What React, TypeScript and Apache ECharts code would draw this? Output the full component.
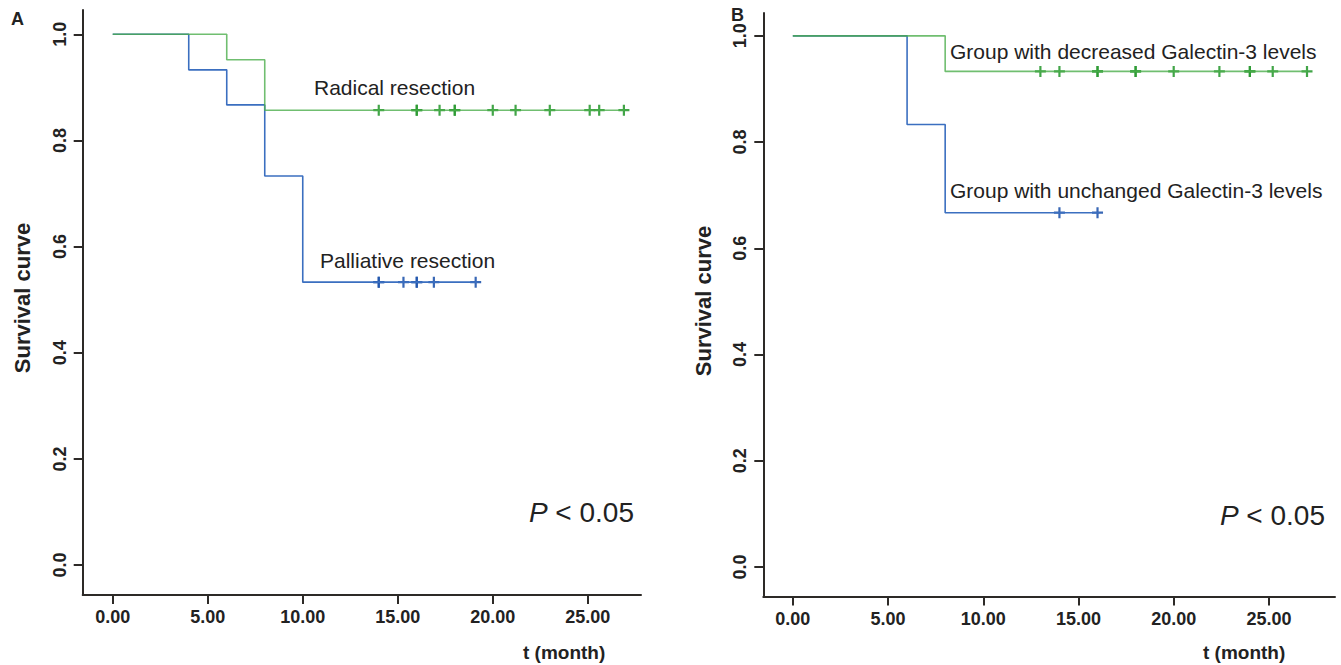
import React, { useEffect, useRef } from "react";
import * as echarts from "echarts";

const xTicks = [0, 5, 10, 15, 20, 25];
const yTicks = [0, 0.2, 0.4, 0.6, 0.8, 1.0];

// Panel A
const radicalTimes = [0, 6, 8, 26.9];
const radicalSurv = [1, 0.952, 0.857, 0.857];
const radicalCensor = [14, 16, 16, 17.2, 18, 18, 20, 21.2, 23, 25.1, 25.6, 26.9];
const palliativeTimes = [0, 4, 6, 8, 10, 19.2];
const palliativeSurv = [1, 0.933, 0.867, 0.733, 0.533, 0.533];
const palliativeCensor = [14, 14, 15.3, 16, 16, 16.9, 19.1];

// Panel B
const decreasedTimes = [0, 8, 27];
const decreasedSurv = [1, 0.933, 0.933];
const decreasedCensor = [13, 14, 16, 16, 18, 18, 20, 22.4, 24, 24, 25.2, 27];
const unchangedTimes = [0, 6, 8, 16.1];
const unchangedSurv = [1, 0.833, 0.667, 0.667];
const unchangedCensor = [14, 16];

const GREEN = "#4cae4c";
const GREEN_DARK = "#2e9b34";
const BLUE = "#3b6fc0";
const BLUE_DARK = "#2257ad";
const AXIS = "#2d2a27";
const TEXT = "#222222";
const FONT = "'Liberation Sans', Arial, sans-serif";

const CROSS = "path://M4,0h2v4h4v2h-4v4h-2v-4h-4v-2h4z";

function survAt(times: number[], surv: number[], t: number) {
  let s = surv[0];
  for (let i = 0; i < times.length; i++) if (times[i] <= t) s = surv[i];
  return s;
}

function stepSeries(times: number[], surv: number[], color: string, idx: number, opacity = 1) {
  return {
    type: "line",
    step: "end",
    xAxisIndex: idx,
    yAxisIndex: idx,
    data: times.map((t, i) => [t, surv[i]]),
    showSymbol: false,
    symbol: "none",
    lineStyle: { color, width: 1.6, opacity },
    silent: true,
  };
}

function censorSeries(times: number[], surv: number[], censor: number[], color: string, idx: number) {
  return {
    type: "scatter",
    xAxisIndex: idx,
    yAxisIndex: idx,
    data: censor.map((t) => [t, survAt(times, surv, t)]),
    symbol: CROSS,
    symbolSize: 11,
    itemStyle: { color, opacity: 0.9 },
    silent: true,
  };
}

function xAxis(idx: number, min: number, max: number) {
  return {
    type: "value",
    gridIndex: idx,
    min,
    max,
    axisLine: { show: true, onZero: false, lineStyle: { color: AXIS, width: 2 } },
    axisTick: { show: true, length: 9, lineStyle: { color: AXIS, width: 2 }, customValues: xTicks },
    axisLabel: {
      show: true,
      margin: 13,
      customValues: xTicks,
      formatter: (v: number) => v.toFixed(2),
      fontFamily: FONT,
      fontWeight: "bold",
      fontSize: 18,
      color: TEXT,
    },
    splitLine: { show: false },
  };
}

function yAxis(idx: number, min: number, max: number) {
  return {
    type: "value",
    gridIndex: idx,
    min,
    max,
    axisLine: { show: true, onZero: false, lineStyle: { color: AXIS, width: 2 } },
    axisTick: { show: true, length: 9, lineStyle: { color: AXIS, width: 2 }, customValues: yTicks },
    axisLabel: {
      show: true,
      rotate: 90,
      margin: 14,
      customValues: yTicks,
      formatter: (v: number) => v.toFixed(1),
      fontFamily: FONT,
      fontWeight: "bold",
      fontSize: 18,
      color: TEXT,
    },
    splitLine: { show: false },
  };
}

function txt(text: string, x: number, y: number, opts: any = {}) {
  return {
    type: "text",
    x,
    y,
    rotation: opts.rotation || 0,
    silent: true,
    style: {
      text,
      fill: TEXT,
      fontFamily: FONT,
      fontSize: opts.fontSize || 21,
      fontWeight: opts.fontWeight || "normal",
      align: opts.align || "left",
      verticalAlign: "middle",
      rich: opts.rich,
    },
  };
}

export default function App() {
  const ref = useRef<HTMLDivElement>(null);
  useEffect(() => {
    if (!ref.current) return;
    const chart = echarts.init(ref.current, null, { renderer: "svg" });
    const pRich = {
      i: { fontStyle: "italic", fontSize: 28, fontFamily: FONT, fill: TEXT, color: TEXT },
      n: { fontSize: 28, fontFamily: FONT, fill: TEXT, color: TEXT },
    };
    chart.setOption({
      animation: false,
      backgroundColor: "#ffffff",
      grid: [
        { left: 82.7, top: 10, width: 558.3, height: 585, outerBoundsMode: "none", containLabel: false },
        { left: 763.3, top: 13, width: 571.7, height: 583.5, outerBoundsMode: "none", containLabel: false },
      ],
      xAxis: [xAxis(0, -1.58, 27.8), xAxis(1, -1.55, 28.47)],
      yAxis: [yAxis(0, -0.0565, 1.0458), yAxis(1, -0.0557, 1.043)],
      series: [
        stepSeries(palliativeTimes, palliativeSurv, BLUE, 0),
        stepSeries(radicalTimes, radicalSurv, GREEN, 0, 0.8),
        censorSeries(palliativeTimes, palliativeSurv, palliativeCensor, BLUE_DARK, 0),
        censorSeries(radicalTimes, radicalSurv, radicalCensor, GREEN_DARK, 0),
        stepSeries(unchangedTimes, unchangedSurv, BLUE, 1),
        stepSeries(decreasedTimes, decreasedSurv, GREEN, 1, 0.8),
        censorSeries(unchangedTimes, unchangedSurv, unchangedCensor, BLUE_DARK, 1),
        censorSeries(decreasedTimes, decreasedSurv, decreasedCensor, GREEN_DARK, 1),
      ],
      graphic: [
        txt("A", 11, 19, { fontSize: 18, fontWeight: "bold" }),
        txt("B", 731, 15, { fontSize: 18, fontWeight: "bold" }),
        txt("Survival curve", 22, 298, { fontSize: 22, fontWeight: "bold", rotation: Math.PI / 2, align: "center" }),
        txt("Survival curve", 703, 301, { fontSize: 22, fontWeight: "bold", rotation: Math.PI / 2, align: "center" }),
        txt("t (month)", 523, 652, { fontSize: 19, fontWeight: "bold" }),
        txt("t (month)", 1203, 652, { fontSize: 19, fontWeight: "bold" }),
        txt("Radical resection", 314, 87),
        txt("Palliative resection", 320, 260),
        txt("Group with decreased Galectin-3 levels", 950, 51),
        txt("Group with unchanged Galectin-3 levels", 950, 190),
        txt("{i|P}{n| < 0.05}", 634, 512, { align: "right", rich: pRich }),
        txt("{i|P}{n| < 0.05}", 1325, 515, { align: "right", rich: pRich }),
      ],
    });
    return () => chart.dispose();
  }, []);
  return (
    <div
      ref={ref}
      style={{ position: "fixed", left: 0, top: 0, width: 1341, height: 665, background: "#fff" }}
    />
  );
}
